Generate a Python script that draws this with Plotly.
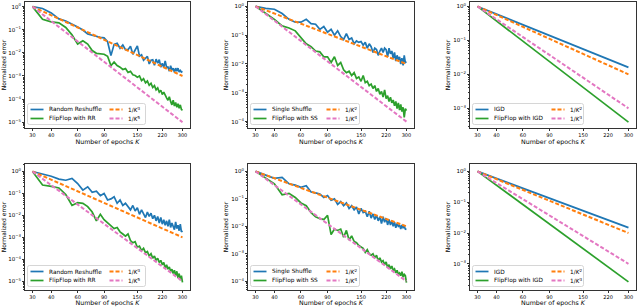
import numpy as np
import plotly.graph_objects as go

# ---------------- data ----------------
K = [30, 35, 40, 45, 50, 55, 60, 65, 70, 75, 80, 85, 90, 95, 100, 105, 110, 115, 120, 125,
     130, 135, 140, 145, 150, 155, 160, 165, 170, 175, 180, 185, 190, 195, 200, 205, 210,
     215, 220, 225, 230, 235, 240, 245, 250, 255, 260, 265, 270, 275, 280, 285, 290, 295, 300]
K_ends = [30, 300]

# log10 of normalized error
rr_top_log10 = [0, -0.08, -0.27, -0.53, -0.62, -0.74, -0.88, -1.01, -1.18, -1.24, -1.30, -1.33,
                -1.35, -1.52, -2.12, -1.63, -1.59, -1.80, -1.66, -1.86, -1.86, -1.71, -2.06, -1.85,
                -1.70, -2.14, -2.08, -2.32, -2.21, -2.15, -2.48, -2.32, -2.30, -2.54, -2.27, -2.45,
                -2.29, -2.62, -2.45, -2.63, -2.35, -2.63, -2.61, -2.79, -2.56, -2.74, -2.66, -2.84,
                -2.66, -2.79, -2.66, -2.83, -2.76, -2.83, -2.80]
ffrr_top_log10 = [0, -0.55, -0.66, -0.70, -0.90, -1.22, -1.62, -1.48, -1.62, -1.90, -2.02, -2.05,
                  -2.06, -2.15, -2.55, -2.40, -2.55, -2.62, -2.72, -2.68, -2.85, -2.80, -2.95, -2.98,
                  -3.05, -3.00, -3.20, -3.12, -3.30, -3.22, -3.40, -3.32, -3.50, -3.42, -3.60, -3.52,
                  -3.70, -3.62, -3.80, -3.70, -3.85, -3.95, -4.05, -3.90, -4.10, -4.25, -4.05, -4.30,
                  -4.15, -4.35, -4.20, -4.40, -4.25, -4.45, -4.48]
ss_top_log10 = [0, -0.07, -0.10, -0.25, -0.45, -0.55, -0.55, -0.45, -0.60, -0.62, -0.80, -0.70,
                -0.90, -0.80, -1.00, -0.85, -1.05, -1.15, -0.95, -1.15, -1.10, -1.30, -1.20, -1.25,
                -1.22, -1.35, -1.25, -1.45, -1.30, -1.40, -1.60, -1.45, -1.50, -1.70, -1.55, -1.45,
                -1.60, -1.45, -1.50, -1.75, -1.45, -1.65, -1.55, -1.80, -1.60, -1.90, -1.70, -1.85,
                -1.75, -2.00, -1.80, -2.05, -1.70, -1.95, -1.92]
ffss_top_log10 = [0, -0.25, -0.45, -0.68, -0.75, -0.85, -1.10, -1.30, -1.40, -1.55, -1.58, -1.75,
                  -1.75, -1.95, -1.75, -2.05, -1.95, -2.20, -2.30, -2.25, -2.40, -2.30, -2.50, -2.45,
                  -2.60, -2.40, -2.65, -2.60, -2.75, -2.70, -2.85, -2.75, -2.95, -2.85, -3.05, -2.95,
                  -3.15, -2.90, -3.20, -3.10, -3.30, -3.15, -3.35, -3.25, -3.45, -3.30, -3.55, -3.35,
                  -3.60, -3.40, -3.65, -3.50, -3.85, -3.55, -3.62]
rr_bot_log10 = [0, -0.10, -0.22, -0.35, -0.40, -0.32, -0.55, -0.85, -0.70, -0.95, -0.90, -1.10,
                -1.00, -1.30, -1.25, -1.15, -1.45, -1.30, -1.55, -1.45, -1.60, -1.75, -1.55, -1.80,
                -1.65, -1.95, -1.75, -1.95, -2.10, -1.85, -2.05, -1.90, -2.15, -2.00, -2.25, -2.05,
                -2.35, -2.10, -2.40, -2.20, -2.45, -2.25, -2.50, -2.20, -2.55, -2.35, -2.50, -2.65,
                -2.30, -2.60, -2.45, -2.70, -2.40, -2.75, -2.70]
ffrr_bot_log10 = [0, -0.62, -0.68, -0.75, -1.05, -1.55, -1.42, -1.45, -1.60, -1.85, -2.25, -1.95,
                  -2.20, -2.35, -2.45, -2.60, -2.55, -2.75, -2.85, -2.95, -2.85, -3.15, -3.25, -3.20,
                  -3.45, -3.40, -3.60, -3.50, -3.70, -3.65, -3.85, -3.75, -3.95, -3.85, -4.05, -3.95,
                  -4.15, -4.05, -4.25, -4.15, -4.40, -4.25, -4.45, -4.35, -4.55, -4.45, -4.65, -4.50,
                  -4.75, -4.55, -4.85, -4.65, -4.95, -4.75, -5.05]
ss_bot_log10 = [0, -0.12, -0.25, -0.22, -0.45, -0.50, -0.58, -0.52, -0.75, -0.78, -0.82, -0.95,
                -0.88, -1.05, -1.00, -1.20, -1.10, -1.25, -1.15, -1.35, -1.25, -1.40, -1.30, -1.55,
                -1.35, -1.50, -1.45, -1.65, -1.45, -1.70, -1.55, -1.75, -1.60, -1.80, -1.65, -1.90,
                -1.65, -1.85, -1.70, -1.95, -1.75, -1.95, -1.80, -2.00, -1.85, -2.05, -1.90, -2.00,
                -1.95, -2.10, -1.95, -2.05, -2.00, -2.10, -2.12]
ffss_bot_log10 = [0, -0.25, -0.45, -0.85, -0.80, -0.95, -1.15, -1.25, -1.50, -1.65, -1.72, -1.75,
                  -1.60, -2.30, -2.10, -2.15, -2.10, -2.40, -2.15, -2.50, -2.35, -2.55, -2.60, -2.70,
                  -2.75, -2.80, -2.95, -2.85, -3.00, -3.05, -3.00, -3.15, -3.05, -3.25, -3.15, -3.30,
                  -3.25, -3.40, -3.30, -3.50, -3.40, -3.55, -3.45, -3.60, -3.55, -3.70, -3.60, -3.75,
                  -3.70, -3.80, -3.65, -3.85, -3.75, -3.80, -4.05]

# straight (log-log) curves: values at K = 30 and K = 300
igd_top = [1.0, 1.6e-2]
ffigd_top = [1.0, 3.9e-4]
igd_bot = [1.0, 1.5e-2]
ffigd_bot = [1.0, 2.6e-4]
ref_K2 = [1.0, 1e-2]
ref_K3 = [1.0, 1e-3]
ref_K4 = [1.0, 1e-4]
ref_K5 = [1.0, 1e-5]

x_ticks = [30, 40, 60, 90, 150, 220, 300]
x_ticktext = ["30", "40", "60", "90", "150", "220", "300"]

# ---------------- styling ----------------
BLUE, GREEN, ORANGE, PINK = "#1f77b4", "#2ca02c", "#ff7f0e", "#e377c2"
FONT = "DejaVu Sans"
W, H = 640, 307

cols_px = [(25, 190), (248, 414), (470, 636)]
rows_px = [(2, 128), (164, 290)]
yranges = {(0, 0): (-5.25, 0.2), (0, 1): (-4.22, 0.15), (0, 2): (-3.58, 0.13),
           (1, 0): (-5.40, 0.34), (1, 1): (-4.32, 0.27), (1, 2): (-3.85, 0.24)}
# legend box width and 2nd-column offset (px) per column of panels
leg_geom = {0: (118, 79), 1: (109, 73), 2: (111, 76)}

panels = {
    (0, 0): [("Random Reshuffle", K, rr_top_log10, BLUE, "solid"),
             ("FlipFlop with RR", K, ffrr_top_log10, GREEN, "solid"),
             ("1/<i>K</i><sup>3</sup>", K_ends, ref_K3, ORANGE, "dash"),
             ("1/<i>K</i><sup>5</sup>", K_ends, ref_K5, PINK, "dash")],
    (0, 1): [("Single Shuffle", K, ss_top_log10, BLUE, "solid"),
             ("FlipFlop with SS", K, ffss_top_log10, GREEN, "solid"),
             ("1/<i>K</i><sup>2</sup>", K_ends, ref_K2, ORANGE, "dash"),
             ("1/<i>K</i><sup>4</sup>", K_ends, ref_K4, PINK, "dash")],
    (0, 2): [("IGD", K_ends, igd_top, BLUE, "solid"),
             ("FlipFlop with IGD", K_ends, ffigd_top, GREEN, "solid"),
             ("1/<i>K</i><sup>2</sup>", K_ends, ref_K2, ORANGE, "dash"),
             ("1/<i>K</i><sup>3</sup>", K_ends, ref_K3, PINK, "dash")],
    (1, 0): [("Random Reshuffle", K, rr_bot_log10, BLUE, "solid"),
             ("FlipFlop with RR", K, ffrr_bot_log10, GREEN, "solid"),
             ("1/<i>K</i><sup>3</sup>", K_ends, ref_K3, ORANGE, "dash"),
             ("1/<i>K</i><sup>5</sup>", K_ends, ref_K5, PINK, "dash")],
    (1, 1): [("Single Shuffle", K, ss_bot_log10, BLUE, "solid"),
             ("FlipFlop with SS", K, ffss_bot_log10, GREEN, "solid"),
             ("1/<i>K</i><sup>2</sup>", K_ends, ref_K2, ORANGE, "dash"),
             ("1/<i>K</i><sup>4</sup>", K_ends, ref_K4, PINK, "dash")],
    (1, 2): [("IGD", K_ends, igd_bot, BLUE, "solid"),
             ("FlipFlop with IGD", K_ends, ffigd_bot, GREEN, "solid"),
             ("1/<i>K</i><sup>2</sup>", K_ends, ref_K2, ORANGE, "dash"),
             ("1/<i>K</i><sup>3</sup>", K_ends, ref_K3, PINK, "dash")],
}

sup = {0: "0", -1: "−1", -2: "−2", -3: "−3", -4: "−4", -5: "−5"}
DASH = "4px,2px"

fig = go.Figure()
layout = dict(width=W, height=H, margin=dict(l=0, r=0, t=0, b=0, autoexpand=False),
              paper_bgcolor="white", plot_bgcolor="white", showlegend=False,
              font=dict(family=FONT, size=6, color="black"))
shapes, annotations = [], []


def px(x):
    return x / W


def py(y):
    return 1 - y / H


idx = 0
for r in range(2):
    for c in range(3):
        idx += 1
        sfx = "" if idx == 1 else str(idx)
        xa, ya = "x" + sfx, "y" + sfx
        x0, x1 = cols_px[c]
        yt, yb = rows_px[r]
        for name, xs, ys, color, dash in panels[(r, c)]:
            yv = ys if len(ys) == 2 else (10.0 ** np.array(ys)).tolist()
            fig.add_trace(go.Scatter(
                x=xs, y=yv, mode="lines", name=name, xaxis=xa, yaxis=ya,
                line=dict(color=color, width=2.0 if dash == "dash" else 1.7,
                          dash=DASH if dash == "dash" else "solid")))
        lo, hi = yranges[(r, c)]
        decades = list(range(int(np.ceil(lo)), 1))
        minor = [m * 10.0 ** d for d in range(int(np.floor(lo)), 1) for m in range(2, 10)
                 if lo <= np.log10(m * 10.0 ** d) <= hi]
        layout["xaxis" + sfx] = dict(
            domain=[px(x0), px(x1)], anchor=ya, type="log",
            range=[np.log10(30) - 0.05, np.log10(300) + 0.05],
            tickvals=x_ticks, ticktext=x_ticktext, ticks="outside", ticklen=2,
            tickwidth=0.6, tickcolor="#333", tickfont=dict(size=5, family=FONT),
            showline=True, mirror=True, linecolor="#333", linewidth=0.8,
            showgrid=False, zeroline=False, automargin=False,
            title=dict(text="Number of epochs <i>K</i>", font=dict(size=6.3, family=FONT),
                       standoff=1))
        layout["yaxis" + sfx] = dict(
            domain=[py(yb), py(yt)], anchor=xa, type="log", range=[lo, hi],
            tickvals=[10.0 ** d for d in decades],
            ticktext=["10<sup>%s</sup>" % sup[d] for d in decades],
            ticks="outside", ticklen=2, tickwidth=0.6, tickcolor="#333",
            tickfont=dict(size=5.5, family=FONT),
            minor=dict(tickvals=minor, ticks="outside", ticklen=1.2, tickwidth=0.5,
                       tickcolor="#333", showgrid=False),
            showline=True, mirror=True, linecolor="#333", linewidth=0.8,
            showgrid=False, zeroline=False, automargin=False,
            title=dict(text="Normalized error", font=dict(size=6, family=FONT), standoff=2))

        # ---- legend box (2 columns) ----
        bw, off2 = leg_geom[c]
        bl, bb = x0 + 2.5, yb - 3.5
        bt = bb - 21
        br = bl + bw
        rad = 2
        path = (f"M{px(bl + rad)},{py(bt)} L{px(br - rad)},{py(bt)} "
                f"Q{px(br)},{py(bt)} {px(br)},{py(bt + rad)} L{px(br)},{py(bb - rad)} "
                f"Q{px(br)},{py(bb)} {px(br - rad)},{py(bb)} L{px(bl + rad)},{py(bb)} "
                f"Q{px(bl)},{py(bb)} {px(bl)},{py(bb - rad)} L{px(bl)},{py(bt + rad)} "
                f"Q{px(bl)},{py(bt)} {px(bl + rad)},{py(bt)} Z")
        shapes.append(dict(type="path", path=path, xref="paper", yref="paper",
                           fillcolor="rgba(255,255,255,0.85)",
                           line=dict(color="#cccccc", width=0.8), layer="above"))
        entries = panels[(r, c)]
        for k, (name, xs, ys, color, dash) in enumerate(entries):
            col = 0 if k < 2 else 1
            row = k % 2
            ly = bt + 6 + row * 9
            lx = bl + 3 + col * off2
            shapes.append(dict(type="line", xref="paper", yref="paper",
                               x0=px(lx), x1=px(lx + 13), y0=py(ly), y1=py(ly),
                               line=dict(color=color, width=2.0 if dash == "dash" else 1.7,
                                         dash=DASH if dash == "dash" else "solid"),
                               layer="above"))
            annotations.append(dict(text=name, xref="paper", yref="paper",
                                    x=px(lx + 17), y=py(ly), xanchor="left", yanchor="middle",
                                    showarrow=False, font=dict(size=5.8, family=FONT),
                                    borderpad=0))

layout["shapes"] = shapes
layout["annotations"] = annotations
fig.update_layout(**layout)
fig.write_html("out.html", config={"displayModeBar": False},
               post_script="document.body.style.margin='0px';")
